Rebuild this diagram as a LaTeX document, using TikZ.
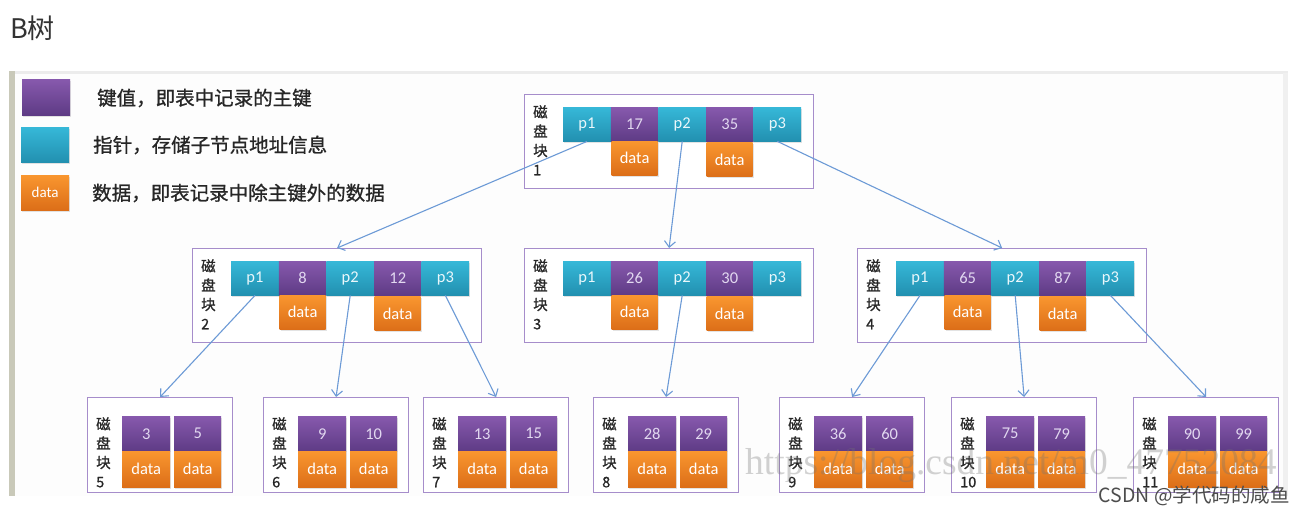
\documentclass[tikz,border=0pt]{standalone}
\usepackage{fontspec}
\setmainfont{Carlito}
\newfontfamily\cjk{Noto Sans CJK SC}
\newfontfamily\cjkb[FakeBold=0.9]{Noto Sans CJK SC}
\newfontfamily\wmfont{Liberation Serif}
\usetikzlibrary{arrows.meta,shadows}

\definecolor{keytop}{HTML}{8759AD}
\definecolor{keybot}{HTML}{5E3B85}
\definecolor{ptrtop}{HTML}{36B8D8}
\definecolor{ptrbot}{HTML}{2290B0}
\definecolor{dattop}{HTML}{F9962F}
\definecolor{datbot}{HTML}{DC6E18}
\definecolor{keytext}{HTML}{E2D8F0}
\definecolor{ptrtext}{HTML}{EAF7FB}
\definecolor{boxline}{HTML}{A68DCB}
\definecolor{arrowc}{HTML}{6C9AD6}
\definecolor{bgimg}{HTML}{FDFDFD}
\definecolor{topline}{HTML}{ECECEC}
\definecolor{rightstrip}{HTML}{F0F0F0}
\definecolor{leftbar}{HTML}{C9C9B9}

\tikzset{
  cellbase/.style={draw=none, minimum height=34pt, inner sep=0pt, anchor=north west,
    font=\fontsize{16.5}{16.5}\selectfont,
    drop shadow={shadow xshift=1pt,shadow yshift=-1.5pt,opacity=0.22}},
  keycell/.style={cellbase, top color=keytop, bottom color=keybot, text=keytext},
  ptrcell/.style={cellbase, top color=ptrtop, bottom color=ptrbot, text=ptrtext},
  datcell/.style={cellbase, top color=dattop, bottom color=datbot, text=white},
  diskbox/.style={draw=boxline, line width=1.2pt, fill=white, anchor=north west, inner sep=0pt},
  disklabel/.style={anchor=north west, align=left, inner sep=0pt,
    font=\cjkb\fontsize{14.5}{19.3}\selectfont, text=black!85},
  link/.style={draw=arrowc, line width=1.1pt,
    -{Straight Barb[length=6pt,width=11pt,line width=1.1pt]}},
  legendtext/.style={anchor=west, inner sep=0pt, font=\cjkb\fontsize{19.5}{19.5}\selectfont, text=black!85}
}

\newcommand\innernode[6]{%
  \begin{scope}[shift={(#2,#3)}]
    \node[diskbox, minimum width=289pt, minimum height=94pt] (#1) at (0,0) {};
    \node[disklabel] (#1-lab) at (9,11) {磁\\盘\\块\\#4};
    \node[ptrcell, minimum width=47.6pt] (#1-p1) at (39,13) {p1};
    \node[keycell, minimum width=47.6pt] (#1-k1) at (86.6,13) {#5};
    \node[ptrcell, minimum width=47.6pt] (#1-p2) at (134.2,13) {p2};
    \node[keycell, minimum width=47.6pt] (#1-k2) at (181.8,13) {#6};
    \node[ptrcell, minimum width=47.6pt] (#1-p3) at (229.4,13) {p3};
    \node[datcell, minimum width=46pt] (#1-d1) at (87.4,47) {data};
    \node[datcell, minimum width=46pt] (#1-d2) at (182.4,48.5) {data};
  \end{scope}}

\newcommand\leafnode[5]{%
  \begin{scope}[shift={(#2,397)}]
    \node[diskbox, minimum width=145pt, minimum height=95pt] (#1) at (0,0) {};
    \node[disklabel] (#1-lab) at (9,20) {磁\\盘\\块\\#3};
    \node[keycell, minimum width=48pt, minimum height=35pt] (#1-k1) at (35,19) {#4};
    \node[keycell, minimum width=47pt, minimum height=35pt] (#1-k2) at (87,19) {#5};
    \node[datcell, minimum width=48pt, minimum height=36pt] (#1-d1) at (35,54) {data};
    \node[datcell, minimum width=47pt, minimum height=36pt] (#1-d2) at (87,54) {data};
  \end{scope}}

\begin{document}
\begin{tikzpicture}[x=1pt, y=-1pt]
  \useasboundingbox (0,0) rectangle (1305,514);
  \fill[white] (0,0) rectangle (1305,514);
  % embedded image background
  \fill[bgimg] (9,71) rectangle (1288,496);
  \fill[topline] (9,71) rectangle (1288,73.5);
  \fill[rightstrip] (1283,73) rectangle (1288,496);
  \fill[leftbar] (9,71) rectangle (15,496);

  % title
  \node[anchor=base west, inner sep=0pt, font=\cjk\fontsize{27}{27}\selectfont, text=black!80] (title) at (10,38) {B树};

  % legend
  \node[keycell, minimum width=48pt, minimum height=36pt] (lg-key) at (22,79) {};
  \node[ptrcell, minimum width=48pt, minimum height=35pt] (lg-ptr) at (21,127) {};
  \node[datcell, minimum width=48pt, minimum height=35pt, font=\fontsize{15}{15}\selectfont] (lg-dat) at (21,175) {data};
  \node[legendtext] (lg-t1) at (97,98) {键值，即表中记录的主键};
  \node[legendtext] (lg-t2) at (93,145) {指针，存储子节点地址信息};
  \node[legendtext] (lg-t3) at (92,193) {数据，即表记录中除主键外的数据};

  % internal nodes
  \innernode{root}{524}{94}{1}{17}{35}
  \innernode{n2}{192}{248}{2}{8}{12}
  \innernode{n3}{524}{248}{3}{26}{30}
  \innernode{n4}{857}{248}{4}{65}{87}

  % leaves
  \leafnode{l5}{87}{5}{3}{5}
  \leafnode{l6}{263}{6}{9}{10}
  \leafnode{l7}{423}{7}{13}{15}
  \leafnode{l8}{593}{8}{28}{29}
  \leafnode{l9}{779}{9}{36}{60}
  \leafnode{l10}{951}{10}{75}{79}
  \leafnode{l11}{1133}{11}{90}{99}

  % connectors
  \draw[link] (root-p1.south) -- (n2.north);
  \draw[link] (root-p2.south) -- (n3.north);
  \draw[link] (root-p3.south) -- (n4.north);
  \draw[link] (n2-p1.south) -- (l5.north);
  \draw[link] (n2-p2.south) -- (l6.north);
  \draw[link] (n2-p3.south) -- (l7.north);
  \draw[link] (n3-p2.south) -- (l8.north);
  \draw[link] (n4-p1.south) -- (l9.north);
  \draw[link] (n4-p2.south) -- (l10.north);
  \draw[link] (n4-p3.south) -- (l11.north);

  % watermarks
  \node[anchor=base west, inner sep=0pt, font=\wmfont\fontsize{37.5}{37.5}\selectfont, text=black!55, opacity=0.32] (wm) at (745,474) {https://blog.csdn.net/m0\_47752084};
  \node[anchor=base east, inner sep=0pt, font=\cjk\fontsize{19.5}{19.5}\selectfont, text=black!70] (csdn) at (1290,502) {CSDN @学代码的咸鱼};
\end{tikzpicture}
\end{document}
